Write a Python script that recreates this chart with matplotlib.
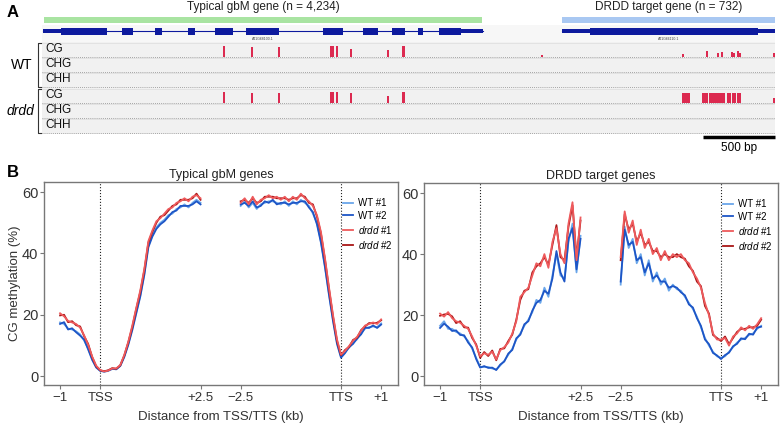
import numpy as np
import matplotlib
matplotlib.use('Agg')
import matplotlib.pyplot as plt
from matplotlib.patches import Rectangle

plt.rcParams['font.family'] = ['Liberation Sans', 'DejaVu Sans']
plt.rcParams['mathtext.fontset'] = 'custom'
plt.rcParams['mathtext.it'] = 'Liberation Sans:italic'
plt.rcParams['mathtext.rm'] = 'Liberation Sans'

# ---------------- panel A data (genome browser, bp) ----------------
region_len = 5087
gbm_span = (14, 3054)
drdd_span = (3609, 5087)
gbm_gene = (7, 3061)
gbm_utr = [(7, 132), (2908, 3061)]
gbm_exons = [(132, 451), (555, 632), (784, 833), (1013, 1062), (1201, 1326),
             (1416, 1645), (1950, 2089), (2228, 2332), (2429, 2519),
             (2609, 2644), (2755, 2908)]
drdd_gene = (3609, 5087)
drdd_utr = [(3609, 3803), (4969, 5087)]
drdd_exons = [(3803, 4969)]

# CG methylation bars (position bp, fraction)
wt_cg_pos = [1263, 1458, 1645, 2006, 2020, 2048, 2145, 2402, 2506, 2513,
             3470, 4449, 4615, 4691, 4719, 4789, 4803, 4830, 4844, 5080]
wt_cg_lvl = [0.85, 0.8, 0.8, 0.85, 0.85, 0.85, 0.65, 0.55, 0.85, 0.85,
             0.15, 0.2, 0.45, 0.3, 0.35, 0.35, 0.3, 0.45, 0.3, 0.3]
drdd_cg_pos = [1263, 1458, 1645, 2006, 2020, 2048, 2145, 2402, 2506, 2513,
               4449, 4462, 4476, 4490, 4587, 4601, 4615, 4636, 4650, 4664,
               4678, 4691, 4705, 4719, 4733, 4761, 4775, 4796, 4809, 4830,
               4844, 5080]
drdd_cg_lvl = [0.85, 0.8, 0.8, 0.85, 0.85, 0.85, 0.8, 0.55, 0.85, 0.85,
               0.8, 0.8, 0.75, 0.8, 0.8, 0.75, 0.8, 0.8, 0.75, 0.8,
               0.8, 0.8, 0.75, 0.8, 0.8, 0.8, 0.75, 0.8, 0.8, 0.8,
               0.75, 0.4]

# ---------------- panel B data (CG methylation %, 100 bp bins) ----------------
tss_kb = np.linspace(-1, 2.5, 36)
tts_kb = np.linspace(-2.5, 1, 36)
tts_offset = 6.0  # x position of TTS on the split axis

gbm_tss_wt1 = [17.5, 17.0, 15.5, 15.2, 14.6, 13.6, 11.6, 9.0, 5.6, 3.0, 1.8, 1.4,
               1.7, 2.3, 2.3, 3.4, 6.5, 10.5, 15.5, 21.0, 26.5, 33.5, 42.5, 46.0,
               48.5, 50.0, 51.0, 52.5, 53.0, 54.5, 55.0, 56.0, 55.0, 56.5, 57.5, 56.5]
gbm_tss_wt2 = [17.0, 17.6, 15.2, 15.6, 14.3, 13.2, 11.9, 8.7, 5.3, 2.8, 1.7, 1.5,
               1.8, 2.4, 2.2, 3.3, 6.2, 10.2, 15.0, 20.5, 26.0, 33.0, 42.0, 45.5,
               48.0, 49.5, 50.5, 52.0, 53.5, 54.0, 55.5, 55.5, 55.5, 56.0, 57.0, 56.0]
gbm_tss_drdd1 = [20.5, 19.5, 18.0, 17.5, 17.0, 15.8, 13.3, 10.2, 6.4, 3.4, 2.0, 1.5,
                 1.8, 2.5, 2.5, 3.6, 6.9, 11.2, 16.5, 22.3, 28.0, 35.0, 44.0, 47.5,
                 50.5, 51.5, 53.0, 54.5, 55.0, 56.5, 57.0, 58.0, 57.0, 58.5, 59.0, 58.0]
gbm_tss_drdd2 = [19.8, 20.0, 17.6, 17.9, 16.6, 16.2, 13.0, 10.5, 6.2, 3.2, 1.9, 1.6,
                 1.9, 2.6, 2.4, 3.5, 6.7, 11.0, 16.0, 22.0, 27.5, 34.5, 43.5, 47.0,
                 50.0, 52.0, 52.5, 54.0, 55.5, 56.0, 57.5, 57.5, 57.5, 58.0, 59.5, 57.5]

gbm_tts_wt1 = [55.5, 57.0, 55.0, 56.5, 54.5, 56.0, 56.5, 57.0, 57.0, 56.5, 56.0, 57.0,
               55.5, 57.0, 56.0, 57.5, 56.5, 55.5, 53.0, 50.0, 44.0, 36.0, 27.0, 18.5,
               11.0, 6.3, 7.8, 9.2, 10.8, 12.0, 14.0, 15.5, 16.0, 16.2, 16.0, 17.2]
gbm_tts_wt2 = [56.0, 56.5, 55.5, 57.0, 55.0, 55.5, 57.0, 56.5, 57.5, 56.0, 56.5, 56.5,
               56.0, 56.5, 56.5, 57.0, 57.0, 55.0, 53.5, 49.5, 43.5, 35.5, 26.5, 18.0,
               10.5, 6.0, 7.5, 9.5, 10.5, 12.3, 13.6, 15.8, 15.7, 16.5, 15.7, 16.8]
gbm_tts_drdd1 = [56.5, 58.0, 56.0, 58.5, 56.0, 57.5, 58.0, 59.0, 58.0, 58.5, 57.5, 58.5,
                 57.0, 58.5, 57.5, 59.5, 58.0, 57.0, 55.5, 52.5, 47.0, 38.5, 29.0, 20.0,
                 12.0, 7.0, 8.2, 9.8, 11.5, 12.8, 14.8, 16.5, 17.0, 17.5, 17.0, 18.5]
gbm_tts_drdd2 = [57.0, 57.5, 56.5, 58.0, 56.5, 57.0, 58.5, 58.5, 58.5, 58.0, 58.0, 58.0,
                 57.5, 58.0, 58.0, 59.0, 58.5, 56.5, 56.0, 52.0, 46.5, 38.0, 28.5, 19.5,
                 11.5, 6.8, 8.5, 9.5, 11.8, 12.5, 15.0, 16.2, 17.3, 17.2, 17.4, 18.2]

tgt_tss_wt1 = [16.5, 18.0, 15.5, 15.5, 14.5, 14.0, 13.0, 11.5, 9.0, 6.0, 3.0, 3.0,
               3.0, 2.5, 2.2, 3.5, 5.0, 7.0, 9.0, 12.0, 14.0, 16.5, 18.5, 21.0,
               25.0, 24.0, 29.0, 26.0, 33.0, 40.0, 33.0, 32.0, 44.0, 50.0, 34.0, 46.0]
tgt_tss_wt2 = [15.8, 17.2, 16.2, 14.8, 15.0, 13.5, 13.4, 11.0, 9.4, 5.6, 2.8, 3.3,
               2.7, 2.8, 2.0, 3.8, 4.8, 7.4, 8.6, 12.4, 13.6, 17.0, 18.0, 21.5,
               24.0, 25.0, 28.0, 27.0, 32.0, 41.0, 34.0, 31.0, 45.0, 48.5, 35.0, 45.0]
tgt_tss_drdd1 = [20.5, 19.5, 21.0, 19.0, 18.0, 17.5, 16.5, 15.5, 13.0, 10.0, 6.5, 7.5,
                 7.0, 8.0, 5.5, 8.5, 9.5, 11.0, 14.0, 18.0, 26.0, 27.5, 29.0, 33.0,
                 37.0, 36.0, 40.0, 35.5, 44.0, 48.5, 40.0, 37.0, 50.0, 57.0, 38.0, 52.0]
tgt_tss_drdd2 = [19.8, 20.2, 20.4, 19.6, 17.4, 18.0, 16.0, 15.9, 12.5, 10.4, 6.0, 7.9,
                 6.6, 8.4, 5.2, 8.9, 9.1, 11.5, 13.6, 18.5, 25.0, 28.0, 28.5, 34.0,
                 36.0, 37.0, 39.0, 36.5, 43.0, 49.5, 39.0, 38.0, 49.0, 56.0, 39.0, 51.0]

tgt_tts_wt1 = [30.0, 49.0, 42.0, 45.0, 37.0, 40.0, 33.0, 38.0, 31.0, 34.0, 30.0, 32.0,
               28.0, 30.0, 28.5, 28.0, 26.0, 24.0, 22.0, 19.5, 16.0, 12.5, 10.0, 8.0,
               6.5, 6.0, 6.5, 8.0, 9.5, 11.0, 12.0, 12.5, 13.5, 14.0, 15.5, 16.5]
tgt_tts_wt2 = [31.0, 48.0, 43.0, 44.0, 38.0, 39.0, 34.0, 37.0, 32.0, 33.0, 31.0, 31.0,
               29.0, 29.5, 29.0, 27.5, 26.5, 23.5, 22.5, 19.0, 16.5, 12.0, 10.5, 7.6,
               6.8, 5.6, 6.9, 7.7, 9.8, 10.6, 12.4, 12.1, 13.9, 13.6, 15.9, 16.2]
tgt_tts_drdd1 = [39.0, 54.0, 47.0, 51.0, 43.0, 48.0, 42.0, 45.0, 40.0, 42.0, 38.0, 41.0,
                 38.0, 40.0, 39.0, 40.0, 38.0, 37.0, 34.0, 32.0, 29.0, 24.0, 20.0, 14.0,
                 12.0, 12.0, 12.5, 10.0, 13.0, 14.0, 16.0, 15.0, 16.5, 15.5, 17.0, 19.0]
tgt_tts_drdd2 = [38.0, 53.0, 48.0, 50.0, 44.0, 47.0, 43.0, 44.0, 41.0, 41.0, 39.0, 40.0,
                 39.0, 39.0, 40.0, 39.0, 38.5, 36.0, 34.5, 31.0, 29.5, 23.0, 20.5, 13.5,
                 12.5, 11.5, 13.0, 10.5, 12.5, 14.5, 15.5, 15.5, 16.0, 16.0, 16.5, 18.5]

series_labels = ['WT #1', 'WT #2', r'$\it{drdd}$ #1', r'$\it{drdd}$ #2']
series_colors = ['#6aa6ea', '#1d55c6', '#ee5a5c', '#a81616']
draw_order = [0, 1, 3, 2]   # light red drawn last, as in the reference
xtick_pos = [-1, 0, 2.5, 3.5, 6, 7]
xtick_labels = ['\u22121', 'TSS', '+2.5', '\u22122.5', 'TTS', '+1']

W, H = 780, 425


def fbox(x0, y0, x1, y1):
    # pixel box (top-left origin) -> figure fraction
    return [x0 / W, 1 - y1 / H, (x1 - x0) / W, (y1 - y0) / H]


fig = plt.figure(figsize=(W / 100, H / 100), dpi=100)

# ---------------- panel A ----------------
ax_a = fig.add_axes(fbox(42, 0, 775, 140))
ax_a.set_xlim(0, region_len)
ax_a.set_ylim(140, 0)
ax_a.axis('off')

ax_a.add_patch(Rectangle((0, 25), region_len, 17, color='#f7f7f7', lw=0))
ax_a.add_patch(Rectangle((0, 42), region_len, 92, color='#f1f1f1', lw=0))

ax_a.add_patch(Rectangle((gbm_span[0], 17), gbm_span[1] - gbm_span[0], 6, color='#a9e4a2', lw=0))
ax_a.add_patch(Rectangle((drdd_span[0], 17), drdd_span[1] - drdd_span[0], 6, color='#a9c8f2', lw=0))
ax_a.text(sum(gbm_span) / 2, 7, 'Typical gbM gene (n = 4,234)', ha='center', va='center',
          fontsize=8.5, color='#222222')
ax_a.text(sum(drdd_span) / 2, 7, 'DRDD target gene (n = 732)', ha='center', va='center',
          fontsize=8.5, color='#222222')

gene_col = '#0d1a9e'
for gene, utrs, exons, name in [(gbm_gene, gbm_utr, gbm_exons, 'AT1G68100.1'),
                                (drdd_gene, drdd_utr, drdd_exons, 'AT1G66110.1')]:
    ax_a.plot(gene, [31, 31], color=gene_col, lw=0.8)
    for s, e in utrs:
        ax_a.add_patch(Rectangle((s, 29), e - s, 4, color=gene_col, lw=0))
    for s, e in exons:
        ax_a.add_patch(Rectangle((s, 27.5), e - s, 7, color=gene_col, lw=0))
    ax_a.text(sum(gene) / 2, 39, name, ha='center', va='center', fontsize=2.5, color='#444444')

track_tops = [43, 58, 73, 89, 104, 119]
track_names = ['CG', 'CHG', 'CHH', 'CG', 'CHG', 'CHH']
for t, name in zip(track_tops, track_names):
    ax_a.plot([0, region_len], [t - 0.5, t - 0.5], color='#dcdcdc', lw=0.5)
    ax_a.plot([0, region_len], [t + 14, t + 14], color='#8c8c8c', lw=0.6, ls=(0, (1, 1.5)))
    ax_a.text(20, t + 6, name, ha='left', va='center', fontsize=8.5, color='#111111')

bar_col = '#dc2a50'
for pos, lvl, top in [(wt_cg_pos, wt_cg_lvl, track_tops[0]),
                      (drdd_cg_pos, drdd_cg_lvl, track_tops[3])]:
    widths = [12 if p < drdd_span[0] else 9 for p in pos]
    ax_a.bar(pos, [-v * 13 for v in lvl], bottom=top + 14, width=widths,
             color=bar_col, lw=0)

# scale bar (500 bp)
ax_a.plot([region_len - 500, region_len], [137, 137], color='black', lw=2.5,
          solid_capstyle='butt', clip_on=False)
ax_a.text(region_len - 250, 142, '500 bp', ha='center', va='top', fontsize=8.5)

# overlay for labels and brackets (pixel coords)
ov = fig.add_axes([0, 0, 1, 1])
ov.set_xlim(0, W)
ov.set_ylim(H, 0)
ov.axis('off')
ov.patch.set_visible(False)
ov.text(7, 12, 'A', fontsize=12, fontweight='bold', ha='left', va='center')
ov.text(7, 172, 'B', fontsize=12, fontweight='bold', ha='left', va='center')
ov.text(22, 65, 'WT', fontsize=10, ha='center', va='center')
ov.text(20, 111, 'drdd', fontsize=10, style='italic', ha='center', va='center')
for y0, y1 in [(43, 87), (89, 133)]:
    ov.plot([41, 38, 38, 41], [y0, y0, y1, y1], color='#333333', lw=0.8)

# ---------------- panel B ----------------
panels = [
    ('Typical gbM genes', fbox(44, 182, 398, 385),
     [gbm_tss_wt1, gbm_tss_wt2, gbm_tss_drdd1, gbm_tss_drdd2],
     [gbm_tts_wt1, gbm_tts_wt2, gbm_tts_drdd1, gbm_tts_drdd2]),
    ('DRDD target genes', fbox(424, 183, 778, 385),
     [tgt_tss_wt1, tgt_tss_wt2, tgt_tss_drdd1, tgt_tss_drdd2],
     [tgt_tts_wt1, tgt_tts_wt2, tgt_tts_drdd1, tgt_tts_drdd2]),
]

for i, (title, box, tss_series, tts_series) in enumerate(panels):
    ax = fig.add_axes(box)
    ax.axvline(0, color='#222222', ls=':', lw=0.8)
    ax.axvline(tts_offset, color='#222222', ls=':', lw=0.8)
    handles = [None] * 4
    for k in draw_order:
        ln, = ax.plot(tss_kb, tss_series[k], color=series_colors[k], lw=1.3,
                      label=series_labels[k])
        ax.plot(tts_kb + tts_offset, tts_series[k], color=series_colors[k], lw=1.3)
        handles[k] = ln
    ax.set_xlim(-1.4, 7.42)
    ax.set_ylim(-2.9, 63.3)
    ax.set_xticks(xtick_pos)
    ax.set_xticklabels(xtick_labels)
    ax.set_yticks([0, 20, 40, 60])
    ax.tick_params(axis='x', labelsize=9.5, colors='#777777', labelcolor='#333333', length=3, pad=2)
    ax.tick_params(axis='y', labelsize=10.5, colors='#777777', labelcolor='#333333', length=3, pad=1)
    for sp in ax.spines.values():
        sp.set_color('#777777')
        sp.set_linewidth(1.0)
    ax.set_title(title, fontsize=9, pad=3, color='#222222')
    ax.set_xlabel('Distance from TSS/TTS (kb)', fontsize=9.5, color='#333333', labelpad=5)
    if i == 0:
        ax.set_ylabel('CG methylation (%)', fontsize=9.5, color='#333333', labelpad=1)
    ax.legend(handles=handles, loc='upper right', bbox_to_anchor=(1.0, 0.95),
              borderaxespad=0.2, frameon=False, fontsize=7, handlelength=1.0,
              handletextpad=0.5, labelspacing=0.3)

fig.savefig('out.png', dpi=100)
